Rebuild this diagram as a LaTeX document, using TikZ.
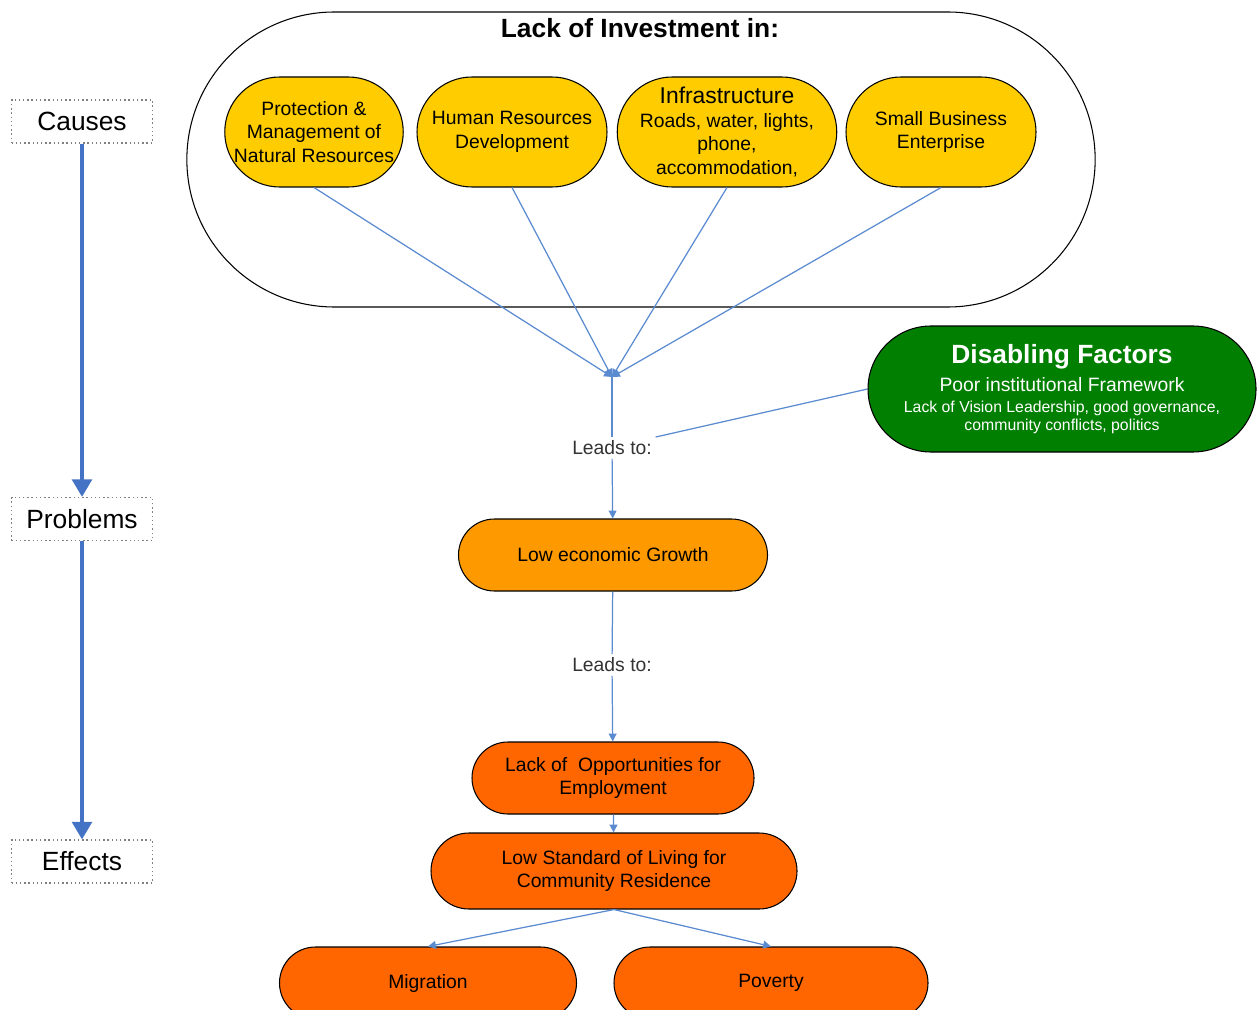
\documentclass[tikz,border=0pt]{standalone}
\usepackage{fontspec}
\setmainfont{Liberation Sans}
\usetikzlibrary{arrows.meta,shapes.misc}
\definecolor{invyellow}{HTML}{FFCC00}
\definecolor{growthorange}{HTML}{FF9900}
\definecolor{effectorange}{HTML}{FF6600}
\definecolor{disgreen}{HTML}{007F00}
\definecolor{linkblue}{HTML}{5A8ACF}
\definecolor{stageblue}{HTML}{4472C4}
\def\px{0.02cm}
\begin{document}
\begin{tikzpicture}[x=0.02cm,y=-0.02cm,
  pill/.style={rounded rectangle, draw=black, line width=0.6pt, align=center,
    inner sep=0pt, font=\fontsize{11}{13.3}\selectfont},
  cause/.style={pill, fill=invyellow, minimum height=110*\px},
  stagebox/.style={draw=gray, dash pattern=on 0.8pt off 1.6pt, line width=0.6pt,
    minimum width=141*\px, minimum height=43*\px, inner sep=0pt,
    font=\fontsize{15}{18}\selectfont},
  stagearrow/.style={draw=stageblue, line width=2.8pt,
    -{Triangle[width=11pt,length=10pt]}},
  link/.style={draw=linkblue, line width=0.7pt},
  linkarrow/.style={link, -{Triangle[width=4.5pt,length=4.5pt]}},
  leads/.style={fill=white, inner sep=2pt, text=black!80,
    font=\fontsize{11}{13}\selectfont}
]
\useasboundingbox (0,0) rectangle (1257,1010);
\clip (0,0) rectangle (1257,1010);

% investment group
\node[rounded rectangle, draw=black, line width=0.6pt, minimum width=920*\px,
  minimum height=295*\px] (group) at (641,159.5) {};
\node[font=\bfseries\fontsize{15}{18}\selectfont] (grouptitle) at (640,28) {Lack of Investment in:};

\node[cause, minimum width=176*\px] (nat) at (314,132)
  {Protection \&\\Management of\\Natural Resources};
\node[cause, minimum width=190*\px] (hrd) at (512,132)
  {Human Resources\\Development};
\node[cause, minimum width=210*\px] (infra) at (727,132)
  {{\fontsize{13}{15}\selectfont Infrastructure}\\Roads, water, lights,\\phone,\\accommodation,};
\node[cause, minimum width=190*\px] (sbe) at (941,132)
  {Small Business\\Enterprise};

\coordinate (meet) at (612,377);
\foreach \n in {nat,hrd,infra,sbe}
  \draw[linkarrow] (\n.south) -- (meet);

% disabling factors
\node[pill, fill=disgreen, text=white, minimum width=388*\px, minimum height=126*\px,
  font=\fontsize{9}{10.2}\selectfont]
  (dis) at (1062,389)
  {{\bfseries\fontsize{15}{15}\selectfont Disabling Factors}\\[4pt]
   {\fontsize{11}{11}\selectfont Poor institutional Framework}\\[1.7pt]
   Lack of Vision Leadership, good governance,\\
   community conflicts, politics};

% problems and effects
\node[leads] (lead1) at (612,448) {Leads to:};
\node[pill, fill=growthorange, minimum width=309*\px, minimum height=72*\px]
  (growth) at (613,555) {Low economic Growth};
\node[leads] (lead2) at (612,665) {Leads to:};
\node[pill, fill=effectorange, minimum width=282*\px, minimum height=72*\px]
  (jobs) at (613,778) {Lack of\ \ Opportunities for\\Employment};
\node[pill, fill=effectorange, minimum width=366*\px, minimum height=76*\px]
  (living) at (614,871) {Low Standard of Living for\\Community Residence};
\node[pill, fill=effectorange, minimum width=297*\px, minimum height=72*\px]
  (migr) at (428,983) {Migration};
\node[pill, fill=effectorange, minimum width=314*\px, minimum height=72*\px]
  (pov) at (771,983) {Poverty};

\draw[link] (meet) -- (lead1);
\draw[linkarrow] (lead1) -- (growth);
\draw[link] (dis.west) -- (lead1.north east);
\draw[link] (growth) -- (lead2);
\draw[linkarrow] (lead2) -- (jobs);
\draw[linkarrow] (jobs) -- (living);
\draw[linkarrow] (living.south) -- (migr.north);
\draw[linkarrow] (living.south) -- (pov.north);

% stage labels
\node[stagebox] (causes) at (82,121.5) {Causes};
\node[stagebox] (problems) at (82,519) {Problems};
\node[stagebox] (effects) at (82,861.5) {Effects};
\draw[stagearrow] (causes) -- (problems);
\draw[stagearrow] (problems) -- (effects);
\end{tikzpicture}
\end{document}
